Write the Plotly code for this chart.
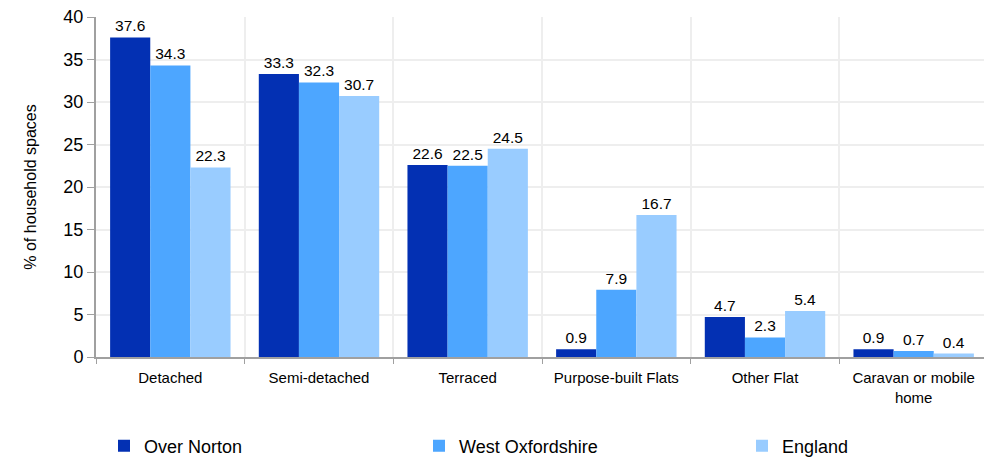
import plotly.graph_objects as go

categories = ["Detached", "Semi-detached", "Terraced", "Purpose-built Flats", "Other Flat", "Caravan or mobile<br>home"]
over_norton = [37.6, 33.3, 22.6, 0.9, 4.7, 0.9]
west_oxfordshire = [34.3, 32.3, 22.5, 7.9, 2.3, 0.7]
england = [22.3, 30.7, 24.5, 16.7, 5.4, 0.4]

series = [
    ("Over Norton", over_norton, "#0330B3", "legend"),
    ("West Oxfordshire", west_oxfordshire, "#4DA6FF", "legend2"),
    ("England", england, "#99CCFF", "legend3"),
]

font = "Liberation Sans, Arial, sans-serif"
fig = go.Figure()
for name, vals, col, lg in series:
    fig.add_trace(go.Bar(
        x=categories, y=vals, name=name, marker=dict(color=col, line=dict(width=0)),
        text=[f"{v:.1f}" for v in vals], textposition="outside", constraintext="none",
        textfont=dict(size=15.5, color="#000000", family=font), cliponaxis=False,
        legend=lg, showlegend=True,
    ))

# page body has an 8px margin, so the figure is offset by (8, 8)
plot_left, plot_w = 96, 892
def lx(px):
    return (px - plot_left) / plot_w

leg_common = dict(orientation="h", yanchor="middle", y=-0.262, xanchor="left",
                  font=dict(size=18, family=font), bgcolor="rgba(0,0,0,0)")

fig.update_layout(
    width=984, height=450, barmode="group", bargap=0.19, bargroupgap=0,
    plot_bgcolor="white", paper_bgcolor="white",
    margin=dict(l=88, r=4, t=9, b=101, autoexpand=False),
    font=dict(family=font, size=15, color="#000000"),
    legend=dict(x=lx(104), **leg_common),
    legend2=dict(x=lx(419), **leg_common),
    legend3=dict(x=lx(742), **leg_common),
    yaxis=dict(range=[0, 40], dtick=5, showgrid=True, gridcolor="#EEEEEE", gridwidth=2,
               showline=True, linecolor="#A0A0A0", linewidth=2, ticks="outside", ticklen=7,
               tickcolor="#A0A0A0", tickfont=dict(size=18), ticklabeloverflow="allow",
               title=dict(text="% of household spaces", font=dict(size=16), standoff=23),
               zeroline=False),
    xaxis=dict(type="category", tickson="boundaries", showgrid=True, gridcolor="#EEEEEE", gridwidth=2,
               showline=True, linecolor="#A0A0A0", linewidth=2, ticks="outside", ticklen=5,
               tickcolor="#A0A0A0", tickfont=dict(size=15), ticklabelstandoff=6),
)

fig.write_html("out.html")
